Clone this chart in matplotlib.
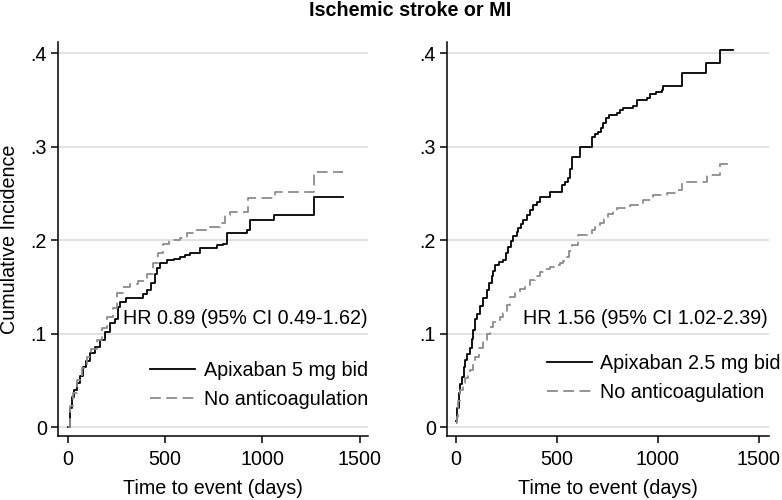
import numpy as np
import matplotlib
matplotlib.use("Agg")
import matplotlib.pyplot as plt
from matplotlib.lines import Line2D

plt.rcParams["font.family"] = ["Liberation Sans", "DejaVu Sans"]

# Left panel: Apixaban 5 mg bid vs no anticoagulation
left_apix_t = [0, 10, 19, 30, 45, 60, 79, 95, 113, 140, 165, 190, 216, 242, 255, 267, 300,
               385, 405, 425, 447, 460, 473, 508, 545, 576, 600, 628, 679, 765, 799, 816,
               919, 936, 1060, 1265, 1416]
left_apix_y = [0, 0.020, 0.032, 0.040, 0.047, 0.055, 0.064, 0.071, 0.079, 0.086, 0.093, 0.102,
               0.111, 0.116, 0.128, 0.134, 0.138, 0.142, 0.147, 0.154, 0.164, 0.170, 0.175,
               0.179, 0.180, 0.182, 0.184, 0.186, 0.191, 0.195, 0.196, 0.207, 0.211, 0.221,
               0.227, 0.246, 0.246]
left_none_t = [0, 10, 25, 45, 70, 96, 120, 147, 175, 199, 233, 250, 285, 319, 360, 405, 439,
               465, 490, 520, 576, 610, 662, 730, 782, 808, 833, 927, 1065, 1265, 1416]
left_none_y = [0, 0.022, 0.036, 0.050, 0.063, 0.075, 0.083, 0.093, 0.106, 0.118, 0.127, 0.143,
               0.150, 0.153, 0.156, 0.164, 0.175, 0.186, 0.196, 0.200, 0.202, 0.207, 0.211,
               0.214, 0.218, 0.227, 0.230, 0.245, 0.251, 0.273, 0.273]

# Right panel: Apixaban 2.5 mg bid vs no anticoagulation
right_apix_t = [0, 5, 12, 20, 28, 37, 45, 55, 69, 78, 86, 94, 105, 119, 135, 152, 165, 177,
                185, 193, 215, 234, 245, 259, 270, 284, 300, 309, 320, 333, 350, 366, 382,
                399, 416, 465, 523, 540, 556, 565, 573, 614, 672, 690, 705, 718, 730, 742,
                755, 796, 810, 829, 878, 895, 944, 960, 990, 1018, 1027, 1120, 1236, 1305,
                1370]
right_apix_y = [0.006, 0.020, 0.036, 0.046, 0.054, 0.064, 0.072, 0.078, 0.084, 0.094, 0.104,
                0.116, 0.121, 0.129, 0.138, 0.147, 0.154, 0.161, 0.167, 0.173, 0.176, 0.179,
                0.186, 0.193, 0.199, 0.204, 0.209, 0.213, 0.217, 0.221, 0.227, 0.232, 0.237,
                0.241, 0.246, 0.251, 0.259, 0.262, 0.266, 0.276, 0.289, 0.300, 0.310, 0.313,
                0.316, 0.320, 0.325, 0.330, 0.334, 0.336, 0.339, 0.341, 0.343, 0.350, 0.352,
                0.356, 0.358, 0.360, 0.365, 0.379, 0.389, 0.403, 0.403]
right_none_t = [0, 3, 10, 20, 32, 45, 57, 69, 82, 94, 115, 135, 152, 168, 185, 201, 218, 234,
                250, 267, 292, 317, 340, 366, 390, 416, 440, 465, 490, 515, 530, 548, 560,
                573, 605, 672, 690, 713, 735, 754, 775, 796, 861, 900, 927, 977, 1043, 1093,
                1117, 1241, 1307, 1370]
right_none_y = [0.004, 0.011, 0.028, 0.040, 0.047, 0.052, 0.057, 0.061, 0.068, 0.075, 0.084,
                0.093, 0.100, 0.107, 0.112, 0.114, 0.118, 0.122, 0.131, 0.139, 0.144, 0.148,
                0.152, 0.157, 0.162, 0.166, 0.169, 0.171, 0.173, 0.175, 0.178, 0.182, 0.188,
                0.195, 0.205, 0.211, 0.214, 0.218, 0.223, 0.228, 0.231, 0.234, 0.237, 0.240,
                0.243, 0.248, 0.250, 0.253, 0.262, 0.270, 0.281, 0.281]

y_ticks = [0, 0.1, 0.2, 0.3, 0.4]
y_tick_labels = ["0", ".1", ".2", ".3", ".4"]
x_ticks = [0, 500, 1000, 1500]

title = "Ischemic stroke or MI"
hr_left = "HR 0.89 (95% CI 0.49-1.62)"
hr_right = "HR 1.56 (95% CI 1.02-2.39)"
leg_left = ["Apixaban 5 mg bid", "No anticoagulation"]
leg_right = ["Apixaban 2.5 mg bid", "No anticoagulation"]

GRAY = "#8c8c8c"
GRID = "#dadada"
FS = 14.2
DASH = (6, 3)

fig = plt.figure(figsize=(7.82, 5.0), dpi=100)
ax1 = fig.add_axes([58 / 782, 64 / 500, 310 / 782, 394 / 500])
ax2 = fig.add_axes([447 / 782, 64 / 500, 322 / 782, 394 / 500])


def style_axis(ax, xlim):
    ax.set_xlim(*xlim)
    ax.set_ylim(-0.0096, 0.4118)
    ax.set_yticks(y_ticks)
    ax.set_yticklabels(y_tick_labels)
    ax.set_xticks(x_ticks)
    ax.set_xticklabels([str(v) for v in x_ticks])
    for y in y_ticks:
        ax.axhline(y, color=GRID, lw=1.1, zorder=0)
    for s in ["top", "right"]:
        ax.spines[s].set_visible(False)
    for s in ["left", "bottom"]:
        ax.spines[s].set_linewidth(1.1)
    ax.tick_params(axis="both", direction="out", length=5, width=1.1, labelsize=FS)
    ax.tick_params(axis="y", pad=3)
    ax.tick_params(axis="x", pad=5)
    ax.text(0.5, -0.132, "Time to event (days)", transform=ax.transAxes,
            ha="center", va="center", fontsize=FS)


style_axis(ax1, (-51, 1543))
style_axis(ax2, (-45, 1550))

ax1.step(left_apix_t, left_apix_y, where="post", color="black", lw=1.3)
ax1.step(left_none_t, left_none_y, where="post", color=GRAY, lw=1.3, dashes=DASH)
ax2.step(right_apix_t, right_apix_y, where="post", color="black", lw=1.3)
ax2.step(right_none_t, right_none_y, where="post", color=GRAY, lw=1.3, dashes=DASH)

ax1.text(1.0, 0.1166, hr_left, transform=ax1.get_yaxis_transform(),
         ha="right", va="center", fontsize=FS)
ax2.text(0.995, 0.1166, hr_right, transform=ax2.get_yaxis_transform(),
         ha="right", va="center", fontsize=FS)

handles = [Line2D([], [], color="black", lw=1.3),
           Line2D([], [], color=GRAY, lw=1.3, dashes=DASH)]

ax1.legend(handles, leg_left, loc="lower left", bbox_to_anchor=(0.297, 0.068),
           frameon=False, fontsize=FS, handlelength=2.3, handletextpad=0.42,
           labelspacing=0.5, borderpad=0, borderaxespad=0)
ax2.legend(handles, leg_right, loc="lower left", bbox_to_anchor=(0.31, 0.086),
           frameon=False, fontsize=FS, handlelength=2.3, handletextpad=0.42,
           labelspacing=0.5, borderpad=0, borderaxespad=0)

fig.text(410 / 782, 1 - 10 / 500, title, ha="center", va="center",
         fontsize=14.2, fontweight="bold")
fig.text(10 / 782, 1 - 239 / 500, "Cumulative Incidence", rotation=90,
         ha="center", va="center", fontsize=FS)

fig.savefig("out.png", dpi=100)
